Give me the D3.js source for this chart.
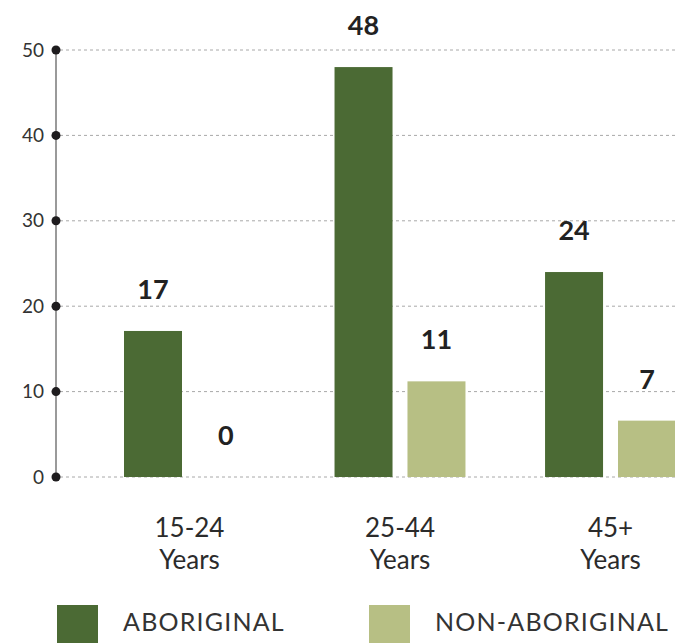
<!DOCTYPE html>
<html>
<head>
    <meta charset="utf-8">
    <title>Age groups</title>
    <script src="https://cdn.jsdelivr.net/npm/d3@7"></script>
    <style>
        body { margin: 0; background: #fff; }
        text { font-family: Lato, sans-serif; }
    </style>
</head>
<body>
<script>
        var categories = ["15-24", "25-44", "45+"];
        var series = ["ABORIGINAL", "NON-ABORIGINAL"];
        var aboriginal = [17.1, 48, 24];
        var nonAboriginal = [0, 11.2, 6.6];
        var yTicks = [0, 10, 20, 30, 40, 50];
        var colors = ["#4b6a34", "#b7bf84"];

        var width = 675, height = 643;

        var svg = d3.select("body").append("svg")
            .attr("width", width)
            .attr("height", height);

        var y = d3.scaleLinear().domain([0, 50]).range([477, 50]);

        var x0 = d3.scaleBand()
            .domain(categories)
            .range([124, 676])
            .paddingInner(0.378)
            .paddingOuter(0);

        var x1 = d3.scaleBand()
            .domain(series)
            .range([0, x0.bandwidth()])
            .paddingInner(0.205);

        var color = d3.scaleOrdinal().domain(series).range(colors);

        // grid
        svg.append("g")
            .selectAll("line")
            .data(yTicks)
            .join("line")
            .attr("x1", 60)
            .attr("x2", width)
            .attr("y1", d => y(d))
            .attr("y2", d => y(d))
            .attr("stroke", "#a8a8a8")
            .attr("stroke-width", 1)
            .attr("stroke-dasharray", "3,3");

        // bars
        var rows = categories.map((c, i) => ({
            cat: c,
            values: [
                { key: series[0], value: aboriginal[i] },
                { key: series[1], value: nonAboriginal[i] }
            ]
        }));

        var groups = svg.append("g")
            .selectAll("g")
            .data(rows)
            .join("g")
            .attr("transform", d => "translate(" + x0(d.cat) + ",0)");

        groups.selectAll("rect")
            .data(d => d.values)
            .join("rect")
            .attr("x", d => x1(d.key))
            .attr("width", x1.bandwidth())
            .attr("y", d => y(d.value))
            .attr("height", d => y(0) - y(d.value))
            .attr("fill", d => color(d.key));

        groups.selectAll("text.val")
            .data(d => d.values)
            .join("text")
            .attr("class", "val")
            .attr("x", d => x1(d.key) + x1.bandwidth() / 2)
            .attr("y", d => y(d.value) - 32)
            .attr("text-anchor", "middle")
            .attr("font-size", 27)
            .attr("font-weight", "bold")
            .attr("fill", "#222")
            .text(d => Math.round(d.value));

        // y axis
        svg.append("line")
            .attr("x1", 56).attr("x2", 56)
            .attr("y1", y(50)).attr("y2", y(0))
            .attr("stroke", "#9a9a9a")
            .attr("stroke-width", 2);

        svg.append("g")
            .selectAll("circle")
            .data(yTicks)
            .join("circle")
            .attr("cx", 56)
            .attr("cy", d => y(d))
            .attr("r", 4.5)
            .attr("fill", "#1e1c1e");

        svg.append("g")
            .selectAll("text")
            .data(yTicks)
            .join("text")
            .attr("x", 44)
            .attr("y", d => y(d))
            .attr("dy", "0.35em")
            .attr("text-anchor", "end")
            .attr("font-size", 19)
            .attr("fill", "#333")
            .text(d => d);

        // category labels, two lines each
        var catX = d => x0(d) + x0.bandwidth() / 2;

        svg.append("g")
            .selectAll("text")
            .data(categories)
            .join("text")
            .attr("x", catX)
            .attr("y", 537)
            .attr("text-anchor", "middle")
            .attr("font-size", 26)
            .attr("fill", "#2b2b2b")
            .text(d => d);

        svg.append("g")
            .selectAll("text")
            .data(categories)
            .join("text")
            .attr("x", catX)
            .attr("y", 569)
            .attr("text-anchor", "middle")
            .attr("font-size", 26)
            .attr("fill", "#2b2b2b")
            .text("Years");

        // legend
        var legendX = d3.scalePoint().domain(series).range([57, 369]);

        var legend = svg.append("g")
            .selectAll("g")
            .data(series)
            .join("g")
            .attr("transform", d => "translate(" + legendX(d) + ",605)");

        legend.append("rect")
            .attr("width", 41)
            .attr("height", 40)
            .attr("fill", d => color(d));

        legend.append("text")
            .attr("x", 66)
            .attr("y", 26)
            .attr("font-size", 25)
            .attr("letter-spacing", 1.2)
            .attr("fill", "#333")
            .text(d => d);
    </script>
</body>
</html>
